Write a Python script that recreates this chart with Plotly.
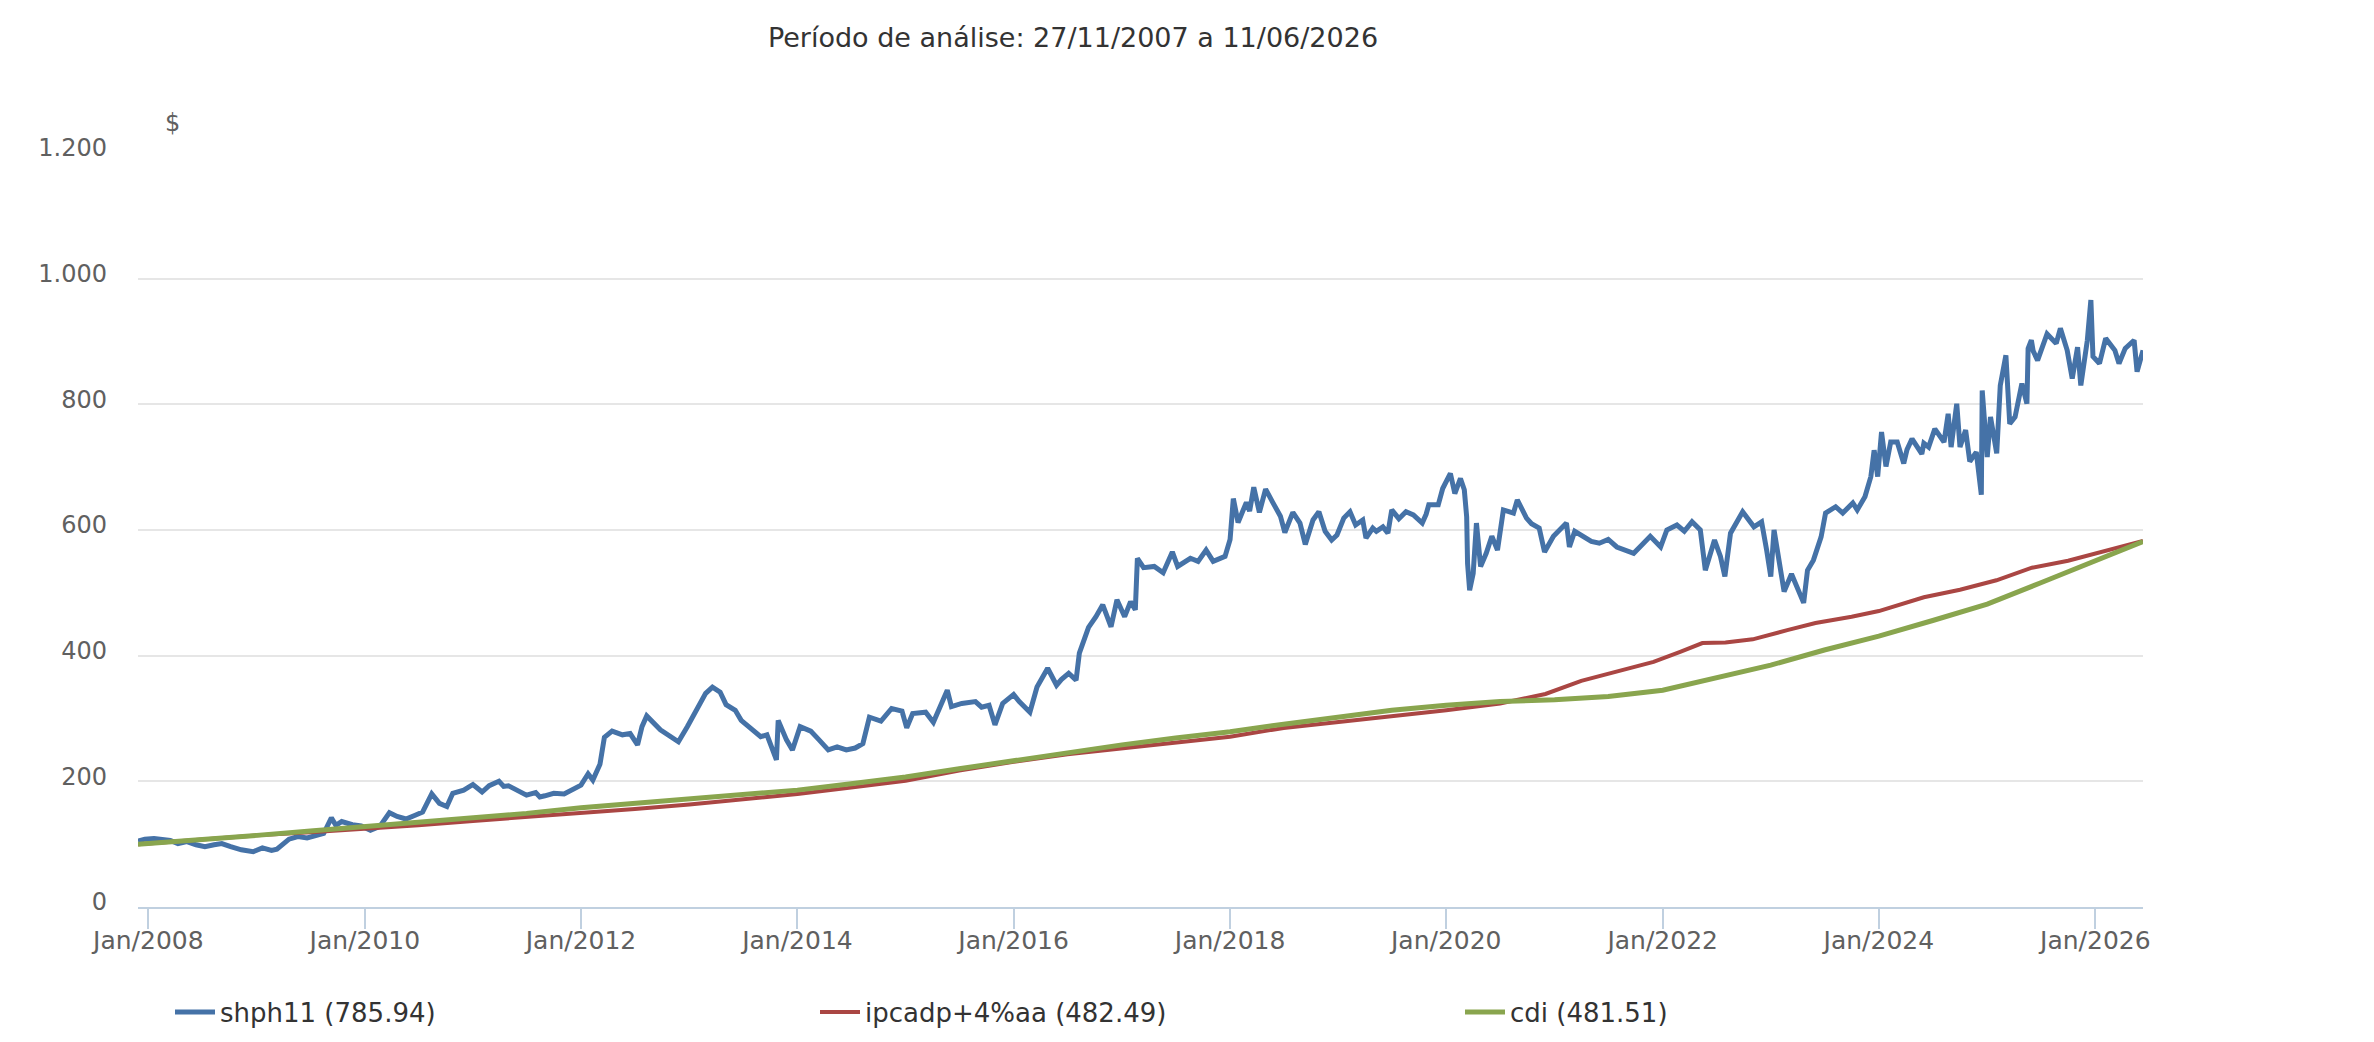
"""
Comparativo de rentabilidade: shph11 x ipcadp+4%aa x cdi (base 100).
"""
import plotly.graph_objects as go

# --- Data ---

shph11_dates = [
    "2007-11-27", "2007-12-20", "2008-01-20", "2008-02-20", "2008-03-15", "2008-04-10",
    "2008-05-10", "2008-06-10", "2008-07-10", "2008-08-10", "2008-09-05", "2008-10-05",
    "2008-11-10", "2008-12-20", "2009-01-20", "2009-02-20", "2009-03-10", "2009-04-20",
    "2009-05-20", "2009-06-20", "2009-07-20", "2009-08-15", "2009-09-10", "2009-09-25",
    "2009-10-15", "2009-11-20", "2009-12-20", "2010-01-20", "2010-02-20", "2010-03-25",
    "2010-04-20", "2010-05-20", "2010-06-20", "2010-07-15", "2010-08-15", "2010-09-10",
    "2010-10-05", "2010-10-25", "2010-12-01", "2011-01-01", "2011-02-01", "2011-02-25",
    "2011-03-30", "2011-05-01", "2011-06-01", "2011-07-01", "2011-08-01", "2011-09-01",
    "2011-10-01", "2011-11-05", "2011-12-01", "2012-01-01", "2012-01-25", "2012-02-10",
    "2012-03-05", "2012-03-20", "2012-04-15", "2012-05-20", "2012-06-15", "2012-07-10",
    "2012-07-25", "2012-08-10", "2012-09-25", "2012-10-25", "2012-11-25", "2012-12-25",
    "2013-01-25", "2013-02-25", "2013-03-20", "2013-04-15", "2013-05-05", "2013-06-05",
    "2013-06-25", "2013-08-05", "2013-08-30", "2013-09-20", "2013-10-22", "2013-10-28",
    "2013-11-25", "2013-12-15", "2014-01-10", "2014-02-15", "2014-03-15", "2014-04-15",
    "2014-05-15", "2014-06-15", "2014-07-15", "2014-08-10", "2014-09-01", "2014-10-10",
    "2014-11-15", "2014-12-20", "2015-01-05", "2015-01-25", "2015-03-10", "2015-04-05",
    "2015-05-05", "2015-05-22", "2015-06-05", "2015-07-10", "2015-08-25", "2015-10-10",
    "2015-10-30", "2015-11-25", "2016-01-01", "2016-01-20", "2016-02-25", "2016-03-20",
    "2016-04-25", "2016-05-25", "2016-07-05", "2016-07-30", "2016-08-10", "2016-09-10",
    "2016-10-05", "2016-10-28", "2016-11-25", "2016-12-15", "2017-01-10", "2017-01-30",
    "2017-02-15", "2017-02-22", "2017-03-15", "2017-04-20", "2017-05-20", "2017-06-20",
    "2017-07-08", "2017-08-20", "2017-09-15", "2017-10-12", "2017-11-05", "2017-12-15",
    "2018-01-01", "2018-01-12", "2018-01-28", "2018-02-25", "2018-03-22", "2018-04-10",
    "2018-05-01", "2018-05-25", "2018-06-20", "2018-07-05", "2018-08-01", "2018-08-25",
    "2018-09-12", "2018-10-08", "2018-10-28", "2018-11-18", "2018-12-10", "2018-12-28",
    "2019-01-20", "2019-02-10", "2019-03-01", "2019-03-25", "2019-04-05", "2019-04-28",
    "2019-06-01", "2019-06-18", "2019-07-01", "2019-08-18", "2019-09-12", "2019-10-12",
    "2019-11-03", "2019-12-05", "2019-12-20", "2020-01-15", "2020-01-30", "2020-02-18",
    "2020-03-02", "2020-03-10", "2020-03-13", "2020-03-20", "2020-04-01", "2020-04-12",
    "2020-04-26", "2020-05-15", "2020-06-03", "2020-06-22", "2020-07-12", "2020-08-15",
    "2020-08-28", "2020-09-28", "2020-11-10", "2020-11-28", "2020-12-28", "2021-02-10",
    "2021-02-20", "2021-04-05", "2021-06-01", "2021-07-30", "2021-09-25", "2021-11-20",
    "2021-12-25", "2022-01-15", "2022-02-18", "2022-04-10", "2022-05-08", "2022-05-25",
    "2022-06-25", "2022-07-15", "2022-07-30", "2022-08-18", "2022-09-28", "2022-11-05",
    "2022-12-01", "2022-12-18", "2023-01-01", "2023-01-12", "2023-01-30", "2023-02-15",
    "2023-03-12", "2023-03-28", "2023-04-22", "2023-05-05", "2023-05-25", "2023-06-20",
    "2023-07-05", "2023-08-08", "2023-09-01", "2023-10-05", "2023-11-15", "2023-12-05",
    "2023-12-16", "2023-12-28", "2024-01-10", "2024-01-25", "2024-02-10", "2024-03-03",
    "2024-03-25", "2024-04-22", "2024-05-25", "2024-06-17", "2024-07-08", "2024-08-08",
    "2024-08-22", "2024-09-01", "2024-09-20", "2024-10-01", "2024-10-20", "2024-11-03",
    "2024-11-25", "2024-12-12", "2024-12-15", "2025-01-01", "2025-01-12", "2025-02-02",
    "2025-02-14", "2025-03-05", "2025-03-18", "2025-04-05", "2025-04-28", "2025-05-15",
    "2025-05-19", "2025-05-30", "2025-06-20", "2025-07-22", "2025-08-22", "2025-09-05",
    "2025-09-28", "2025-10-15", "2025-11-02", "2025-11-13", "2025-12-05", "2025-12-17",
    "2025-12-24", "2026-01-15", "2026-02-05", "2026-03-08", "2026-03-22", "2026-04-12",
    "2026-05-12", "2026-05-22", "2026-06-11",
]
shph11_values = [
    105, 108, 109, 107, 106, 101,
    104, 99, 96, 99, 101, 96,
    91, 88, 94, 90, 92, 108,
    112, 110, 113, 117, 142, 130,
    136, 131, 129, 122, 128, 150,
    144, 140, 146, 151, 180, 165,
    160, 181, 186, 195, 183, 193,
    200, 193, 186, 178, 182, 177,
    181, 180, 186, 194, 212, 202,
    227, 270, 280, 274, 276, 258,
    287, 304, 282, 272, 263, 287,
    313, 340, 350, 342, 322, 313,
    297, 282, 271, 274, 234, 297,
    266, 250, 287, 280, 266, 250,
    255, 250, 253, 260, 302, 296,
    316, 312, 285, 308, 310, 294,
    330, 345, 319, 324, 327, 321,
    290, 324, 338, 327, 310, 350,
    380, 353, 372, 361, 404, 445,
    462, 481, 446, 489, 462, 486,
    473, 555, 540, 542, 532, 565,
    542, 555, 550, 568, 550, 558,
    585, 650, 612, 644, 668, 628,
    665, 644, 622, 596, 628, 611,
    577, 616, 629, 598, 584, 592,
    619, 629, 608, 616, 587, 603,
    605, 595, 632, 629, 624, 611,
    640, 640, 666, 690, 658, 682,
    664, 621, 547, 504, 531, 611,
    542, 563, 590, 568, 632, 627,
    648, 619, 603, 565, 590, 611,
    573, 590, 579, 573, 563, 590,
    573, 600, 608, 613, 600, 536,
    584, 558, 526, 595, 629, 605,
    613, 568, 526, 600, 552, 502,
    530, 513, 484, 536, 552, 589,
    627, 637, 627, 643, 653, 685,
    727, 685, 756, 701, 740, 740,
    706, 745, 721, 732, 761, 740,
    785, 732, 801, 732, 759, 709,
    724, 656, 822, 716, 780, 722,
    830, 878, 769, 780, 833, 801,
    889, 902, 870, 912, 897, 921,
    886, 841, 891, 830, 902, 966,
    876, 865, 905, 886, 865, 889,
    902, 852, 885.94,
]

# short swings between the points above
shph11_extra_dates = [
    "2011-04-15", "2011-08-15", "2014-03-01", "2015-09-15", "2016-06-10", "2018-03-08",
    "2018-07-18", "2019-05-10", "2019-07-25", "2019-10-25", "2020-10-15", "2021-03-10",
    "2021-05-05", "2021-07-01", "2021-08-25", "2021-10-20", "2022-03-15", "2023-10-20",
    "2024-04-05", "2024-06-01", "2025-06-05", "2025-08-05",
]
shph11_extra_values = [
    192, 175, 272, 318, 362, 630,
    612, 598, 618, 625, 610, 598,
    582, 585, 568, 575, 598, 632,
    728, 738, 885, 905,
]

ipca_dates = [
    "2007-11-27", "2008-07-01", "2009-01-01", "2009-07-01", "2010-01-01", "2010-07-01",
    "2011-01-01", "2011-07-01", "2012-01-01", "2012-07-01", "2013-01-01", "2013-07-01",
    "2014-01-01", "2014-07-01", "2015-01-01", "2015-07-01", "2016-01-01", "2016-07-01",
    "2017-01-01", "2017-07-01", "2018-01-01", "2018-07-01", "2019-01-01", "2019-07-01",
    "2020-01-01", "2020-07-01", "2020-12-01", "2021-04-01", "2021-08-01", "2021-12-01",
    "2022-03-01", "2022-05-15", "2022-08-01", "2022-11-01", "2023-03-01", "2023-06-01",
    "2023-10-01", "2024-01-01", "2024-06-01", "2024-10-01", "2025-02-01", "2025-06-01",
    "2025-10-01", "2026-02-01", "2026-06-11",
]
ipca_values = [
    100, 108, 114, 119, 124, 130,
    137, 143, 149, 156, 163, 171,
    180, 190, 201, 217, 231, 243,
    252, 261, 271, 285, 294, 304,
    313, 324, 339, 360, 375, 390,
    406, 420, 421, 426, 441, 452,
    462, 471, 493, 505, 520, 540,
    551, 566, 582.49,
]

cdi_dates = [
    "2007-11-27", "2008-07-01", "2009-01-01", "2009-07-01", "2010-01-01", "2010-07-01",
    "2011-01-01", "2011-07-01", "2012-01-01", "2012-07-01", "2013-01-01", "2013-07-01",
    "2014-01-01", "2014-07-01", "2015-01-01", "2015-07-01", "2016-01-01", "2016-07-01",
    "2017-01-01", "2017-07-01", "2018-01-01", "2018-07-01", "2019-01-01", "2019-07-01",
    "2020-01-01", "2020-07-01", "2021-01-01", "2021-07-01", "2022-01-01", "2022-07-01",
    "2023-01-01", "2023-07-01", "2024-01-01", "2024-07-01", "2025-01-01", "2025-07-01",
    "2026-01-01", "2026-06-11",
]
cdi_values = [
    100, 107, 114, 121, 128, 134,
    141, 149, 158, 165, 172, 178,
    186, 196, 207, 220, 233, 246,
    258, 269, 279, 291, 302, 313,
    321, 327, 330, 335, 345, 364,
    385, 409, 431, 456, 482, 516,
    552, 581.51,
]

series_names = ["shph11 (785.94)", "ipcadp+4%aa (482.49)", "cdi (481.51)"]
y_tick_values = [0, 200, 400, 600, 800, 1000, 1200]
y_tick_labels = ["0", "200", "400", "600", "800", "1.000", "1.200"]

colors = {
    'shph11': '#4572A7',
    'ipca': '#AA4643',
    'cdi': '#89A54E',
    'grid': '#E6E6E6',
    'axis': '#C0D0E0',
    'labels': '#606060',
    'text': '#333333',
}
FONT = "DejaVu Sans, Arial, sans-serif"

# merge the extra swings into the main series, in date order
shph11_points = sorted(zip(shph11_dates + shph11_extra_dates,
                           shph11_values + shph11_extra_values))
shph11_x = [d for d, _ in shph11_points]
shph11_y = [v for _, v in shph11_points]

# --- Traces ---

fig = go.Figure()
for dates, values, name, color, width in [
    (shph11_x, shph11_y, series_names[0], colors['shph11'], 5),
    (ipca_dates, ipca_values, series_names[1], colors['ipca'], 4),
    (cdi_dates, cdi_values, series_names[2], colors['cdi'], 5),
]:
    fig.add_trace(go.Scatter(
        x=dates,
        y=values,
        name=name,
        mode='lines',
        line=dict(color=color, width=width),
    ))

# --- Layout ---

fig.update_layout(
    width=2358,
    height=1026,
    paper_bgcolor='white',
    plot_bgcolor='white',
    margin=dict(l=130, r=223, t=145, b=127),
    font=dict(family=FONT, size=24, color=colors['text']),
    title=dict(
        text="Período de análise: 27/11/2007 a 11/06/2026",
        xref='container', x=1065 / 2358, xanchor='center',
        yref='container', y=1 - 30 / 1026, yanchor='middle',
        font=dict(family=FONT, size=27, color=colors['text']),
    ),
    legend=dict(
        orientation='h',
        xref='container', x=162 / 2358, xanchor='left',
        yref='container', y=22 / 1026, yanchor='middle',
        itemwidth=40,
        entrywidth=590,
        entrywidthmode='pixels',
        font=dict(family=FONT, size=26, color=colors['text']),
        bgcolor='rgba(0,0,0,0)',
    ),
    showlegend=True,
    annotations=[dict(
        text="$",
        xref='paper', yref='paper',
        x=(172 - 138) / 2005, y=1 + 30 / 754,
        xanchor='center', yanchor='middle',
        showarrow=False,
        font=dict(family=FONT, size=24, color=colors['labels']),
    )],
)

# --- Axes ---

fig.update_xaxes(
    type='date',
    range=["2007-11-27", "2026-06-11"],
    tick0="2008-01-01",
    dtick="M24",
    tickformat="%b/%Y",
    showgrid=False,
    zeroline=False,
    showline=True,
    linecolor=colors['axis'],
    linewidth=2,
    ticks='outside',
    ticklen=20,
    tickwidth=2,
    tickcolor=colors['axis'],
    ticklabelstandoff=-10,
    tickfont=dict(family=FONT, size=25, color=colors['labels']),
)

fig.update_yaxes(
    range=[0, 1200],
    tickvals=y_tick_values,
    ticktext=y_tick_labels,
    showgrid=True,
    gridcolor=colors['grid'],
    gridwidth=2,
    zeroline=False,
    showline=False,
    ticks='',
    ticklabelstandoff=30,
    ticklabelshift=-5,
    tickfont=dict(family=FONT, size=24, color=colors['labels']),
)

fig.write_html("out.html")
